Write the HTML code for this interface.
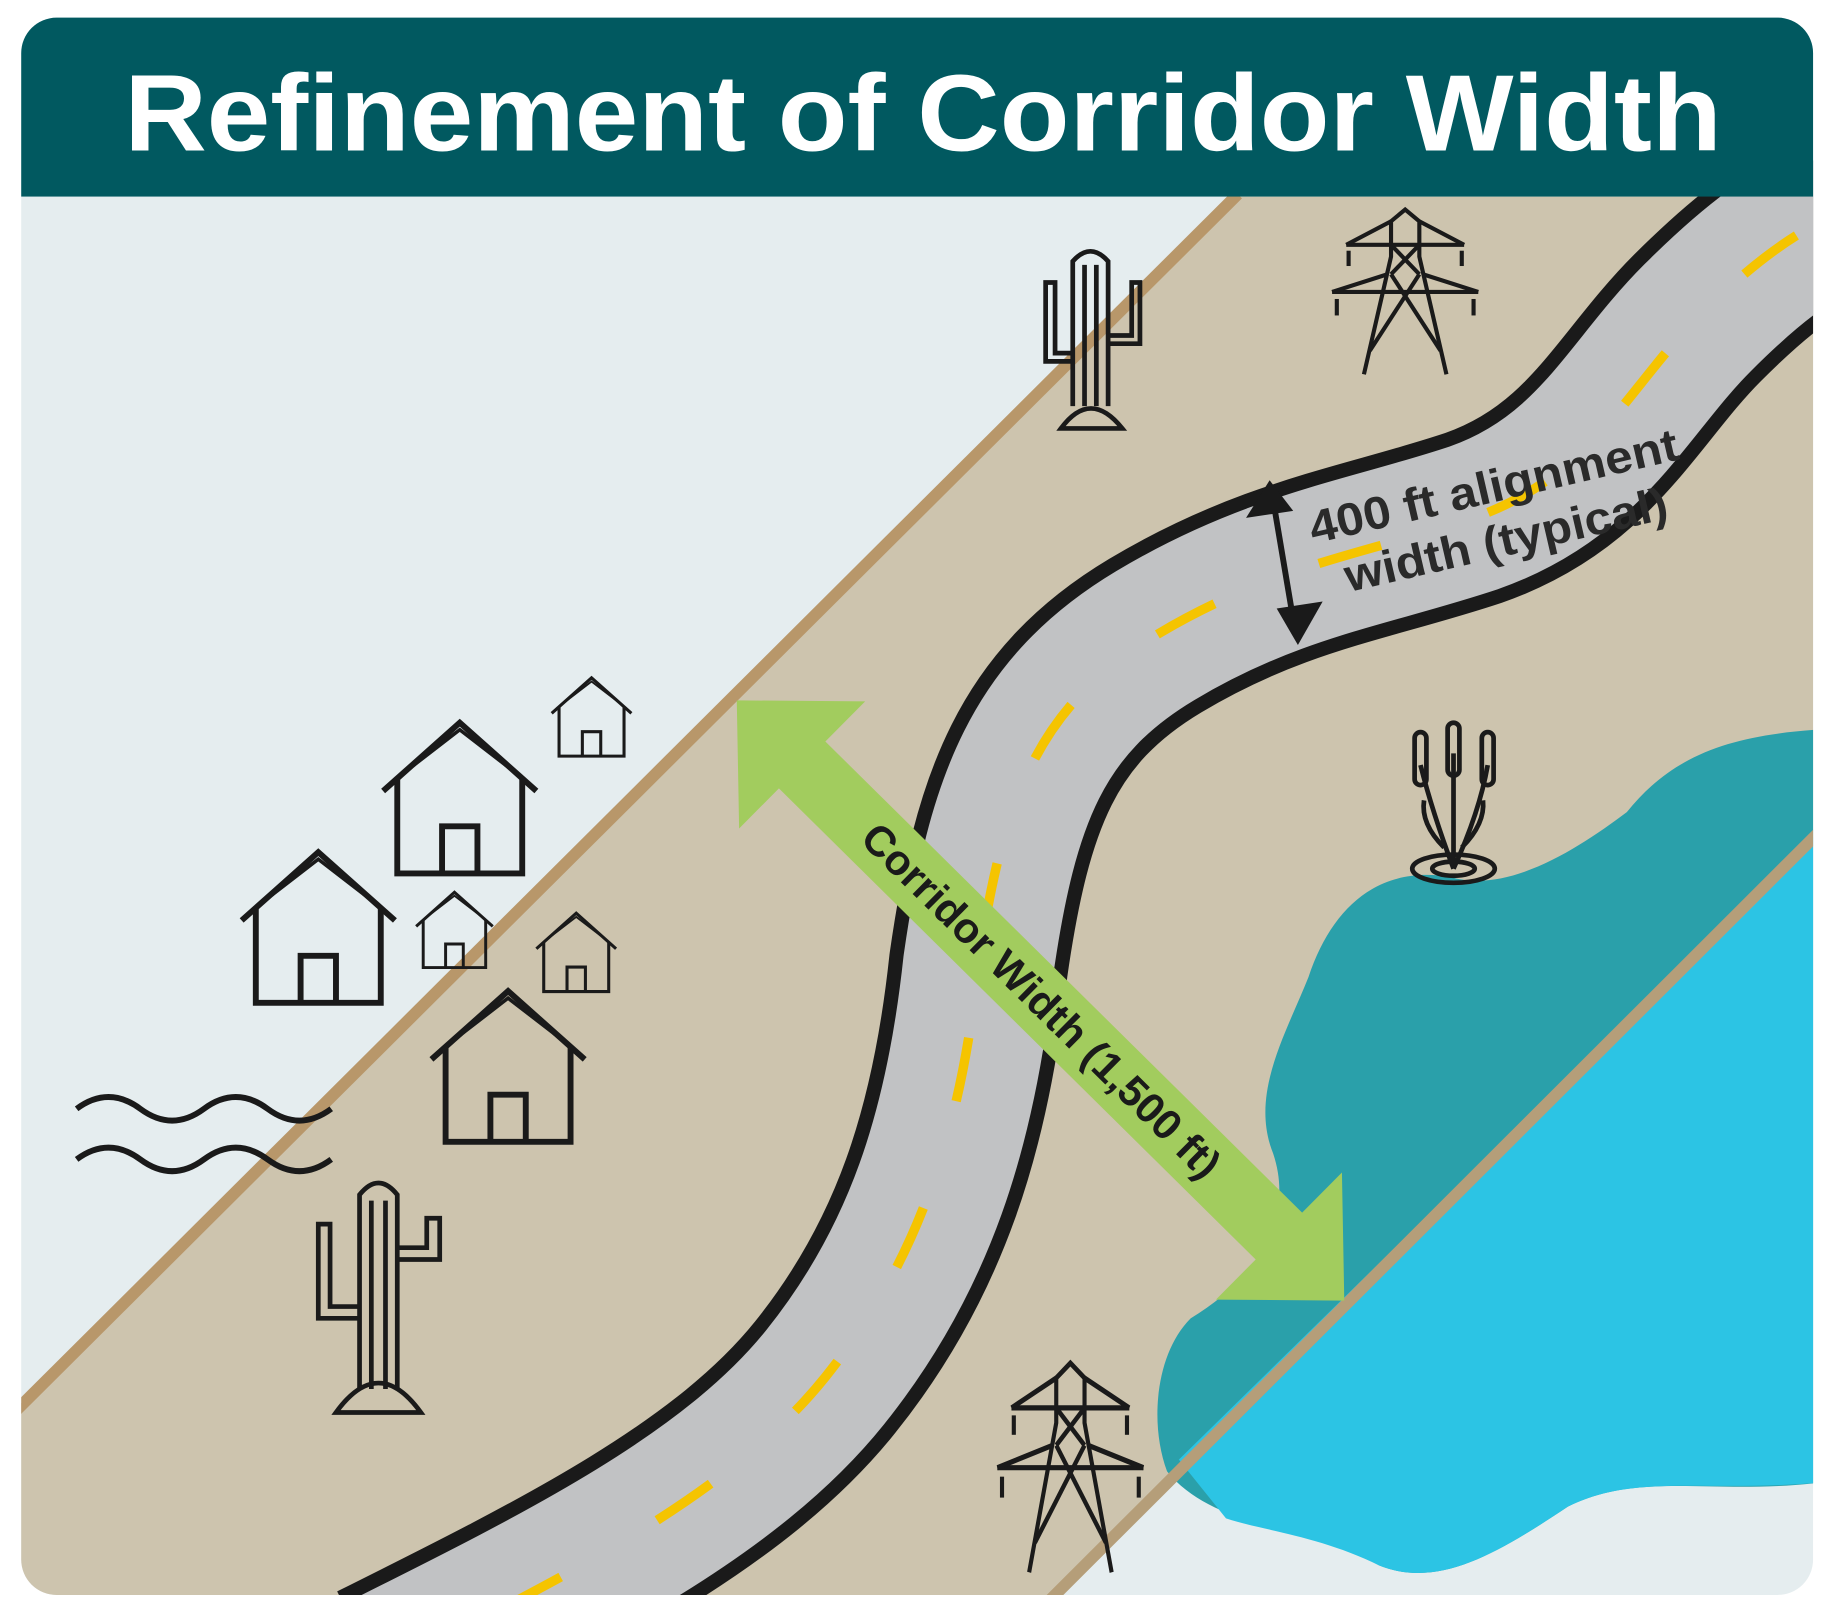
<!DOCTYPE html>
<html><head><meta charset="utf-8"><style>
html,body{margin:0;padding:0;background:#fff;}
svg{display:block;}
</style></head><body>
<svg width="1839" height="1602" viewBox="0 0 1560 1361" preserveAspectRatio="none" xmlns="http://www.w3.org/2000/svg">
<defs>
<clipPath id="card"><rect x="18" y="15" width="1520" height="1340" rx="30"/></clipPath>
<g id="house" fill="none" stroke="#1a1a1a" stroke-width="5">
<polyline points="0,50 65,-8 130,50"/>
<polyline points="8,42 65,-2 122,42" stroke-width="3"/>
<polyline points="12,40 12,120 118,120 118,40"/>
<polyline points="50,120 50,80 80,80 80,120"/>
</g>
<g id="tower" fill="none" stroke="#1a1a1a" stroke-width="3.5">
<polyline points="-35,140 -12,40 -12,10 0,0 12,10 12,40 35,140"/>
<line x1="-50" y1="30" x2="50" y2="30"/><line x1="-62" y1="70" x2="62" y2="70"/>
<line x1="-50" y1="30" x2="-12" y2="10"/><line x1="50" y1="30" x2="12" y2="10"/>
<line x1="-62" y1="70" x2="-15" y2="55"/><line x1="62" y1="70" x2="15" y2="55"/>
<line x1="-12" y1="30" x2="12" y2="55"/><line x1="12" y1="30" x2="-12" y2="55"/>
<line x1="-12" y1="55" x2="30" y2="120"/><line x1="12" y1="55" x2="-30" y2="120"/>
<line x1="-48" y1="35" x2="-48" y2="48"/><line x1="48" y1="35" x2="48" y2="48"/>
<line x1="-58" y1="76" x2="-58" y2="90"/><line x1="58" y1="76" x2="58" y2="90"/>
</g>
<path id="road" d="M320,1420 C480,1340 620,1270 700,1170 C780,1070 815,960 830,820 C850,680 880,600 980,540 C1080,480 1160,470 1250,440 C1350,405 1380,330 1440,270 C1490,220 1520,200 1560,180"/>
</defs>
<g clip-path="url(#card)">
<rect x="0" y="0" width="1560" height="1361" fill="#e5edef"/>
<polygon points="1050,167 1560,167 1560,690 885,1361 0,1361 0,1210" fill="#cdc4ae"/>
<line x1="0" y1="1212" x2="1050" y2="165" stroke="#b8976a" stroke-width="10"/>
<path d="M1540,620 C1470,625 1420,640 1380,690 C1340,720 1280,760 1230,745 C1170,735 1130,770 1110,830 C1090,880 1060,930 1080,980 C1100,1040 1060,1090 1010,1120 C980,1150 975,1210 990,1250 C1030,1300 1120,1300 1170,1330 C1220,1350 1270,1320 1330,1280 C1390,1250 1450,1270 1540,1260 Z" fill="#2aa0aa"/>
<path d="M1560,690 L1560,1258 C1450,1270 1390,1250 1330,1280 C1270,1320 1220,1350 1170,1330 C1120,1305 1070,1300 1040,1290 L1000,1240 Z" fill="#2cc4e4"/>
<line x1="1560" y1="690" x2="885" y2="1365" stroke="#b59e79" stroke-width="10"/>
<use href="#road" fill="none" stroke="#1a1a1a" stroke-width="152"/>
<use href="#road" fill="none" stroke="#c1c2c4" stroke-width="128"/>
<use href="#road" fill="none" stroke="#f5c400" stroke-width="8" stroke-dasharray="55,95" stroke-dashoffset="-120"/>
<g stroke="#1a1a1a" stroke-width="5" fill="#1a1a1a">
<line x1="1080" y1="425" x2="1098" y2="532"/>
<polygon points="1077,408 1057,440 1097,434" stroke="none"/>
<polygon points="1101,548 1083,517 1122,511" stroke="none"/>
</g>
<text transform="translate(1114,462) rotate(-13)" font-family="Liberation Sans, sans-serif" font-weight="bold" font-size="39" fill="#2a2a2a" textLength="320" lengthAdjust="spacingAndGlyphs">400 ft alignment</text>
<text transform="translate(1144,503) rotate(-13)" font-family="Liberation Sans, sans-serif" font-weight="bold" font-size="39" fill="#2a2a2a" textLength="280" lengthAdjust="spacingAndGlyphs">width (typical)</text>
<g transform="translate(625,595) rotate(44.7)">
<polygon points="0,0 78,-76 78,-28 647,-28 647,-76 725,0 647,76 647,28 78,28 78,76" fill="#a2cc5e"/>
<text x="363" y="12" text-anchor="middle" font-family="Liberation Sans, sans-serif" font-weight="bold" font-size="36" fill="#1a1a1a">Corridor Width (1,500 ft)</text>
</g>
<use href="#house" transform="translate(468,580) scale(0.52)"/>
<use href="#house" transform="translate(325,622) scale(1)"/>
<use href="#house" transform="translate(205,732) scale(1)"/>
<use href="#house" transform="translate(353,762) scale(0.5)"/>
<use href="#house" transform="translate(455,780) scale(0.52)"/>
<use href="#house" transform="translate(366,850) scale(1)"/>
<g fill="none" stroke="#1a1a1a" stroke-width="5">
<path d="M65,942 q27,-20 54,0 t54,0 t54,0 t54,0"/>
<path d="M65,985 q27,-20 54,0 t54,0 t54,0 t54,0"/>
</g>
<g fill="none" stroke="#1a1a1a" stroke-width="4">
<path d="M305,1180 L305,1015 Q321,995 337,1015 L337,1180"/>
<line x1="315" y1="1020" x2="315" y2="1180"/><line x1="327" y1="1020" x2="327" y2="1180"/>
<path d="M305,1110 L280,1110 L280,1040 L270,1040 L270,1120 L305,1120"/>
<path d="M337,1060 L362,1060 L362,1035 L373,1035 L373,1070 L337,1070"/>
<path d="M285,1200 Q321,1150 357,1200 Z"/>
<path d="M910,345 L910,222 Q925,205 940,222 L940,345"/>
<line x1="920" y1="225" x2="920" y2="345"/><line x1="930" y1="225" x2="930" y2="345"/>
<path d="M910,300 L895,300 L895,240 L887,240 L887,307 L910,307"/>
<path d="M940,285 L960,285 L960,240 L967,240 L967,292 L940,292"/>
<path d="M900,364 Q925,330 952,364 Z"/>
</g>
<use href="#tower" transform="translate(1192,178)"/>
<use href="#tower" transform="translate(908,1158) scale(1,1.27)"/>
<g fill="none" stroke="#1a1a1a" stroke-width="4">
<ellipse cx="1233" cy="738" rx="35" ry="12"/><ellipse cx="1233" cy="738" rx="18" ry="6"/>
<path d="M1233,738 L1233,640 M1233,738 Q1215,690 1205,650 M1233,738 Q1255,690 1262,650"/>
<rect x="1200" y="622" width="10" height="45" rx="5"/><rect x="1228" y="614" width="10" height="45" rx="5"/><rect x="1257" y="622" width="10" height="45" rx="5"/>
<path d="M1225,720 Q1205,700 1208,680 M1240,720 Q1260,700 1258,680"/>
</g>
<rect x="0" y="0" width="1560" height="167" fill="#015960"/>
<text x="783" y="128" text-anchor="middle" font-family="Liberation Sans, sans-serif" font-weight="bold" font-size="92" fill="#ffffff" textLength="1355" lengthAdjust="spacingAndGlyphs">Refinement of Corridor Width</text>
</g>
</svg>
</body></html>
